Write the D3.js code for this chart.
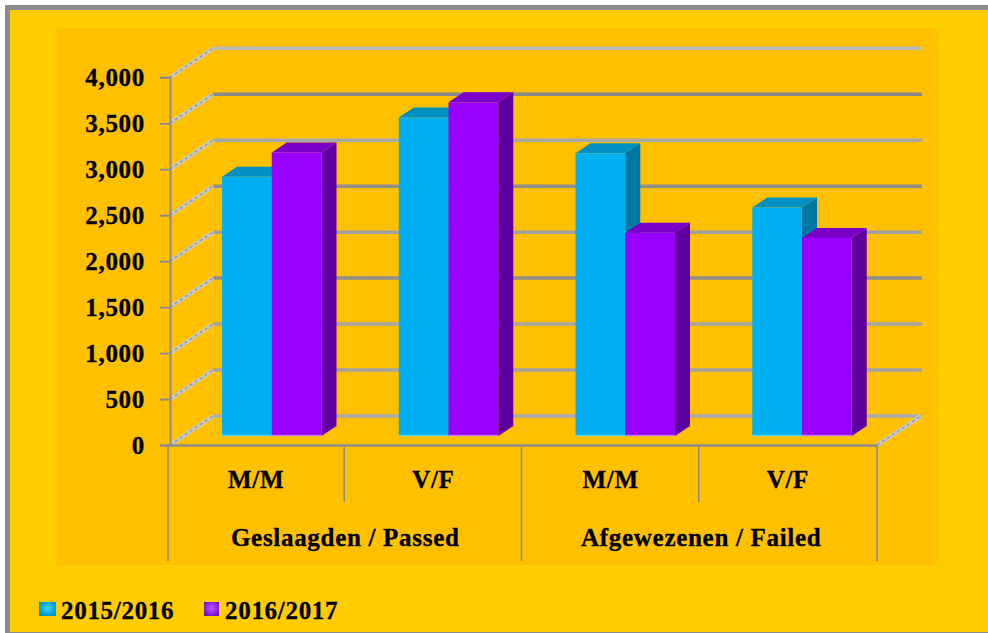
<!DOCTYPE html>
<html><head><meta charset="utf-8">
<script src="https://cdn.jsdelivr.net/npm/d3@7"></script>
<style>html,body{margin:0;padding:0;background:#fff}svg{display:block}
text{font-family:"Liberation Serif",serif;font-weight:bold;fill:#000;stroke:#000;stroke-width:0.3px}</style></head>
<body><div id="c"></div>
<script>
const categories = ["M/M","V/F","M/M","V/F"];
const groups = ["Geslaagden / Passed","Afgewezenen / Failed"];
const seriesNames = ["2015/2016","2016/2017"];
const s2015 = [2820,3465,3075,2485];
const s2016 = [3085,3630,2210,2155];
const yTicks = [0,500,1000,1500,2000,2500,3000,3500,4000];

const W=988,H=633;
const svg=d3.select("#c").append("svg").attr("width",W).attr("height",H);
const defs=svg.append("defs");
svg.append("rect").attr("width",W).attr("height",H).attr("fill","#8c8c8c");
svg.append("rect").attr("width",W).attr("height",5).attr("fill","#fff");
svg.append("rect").attr("width",5).attr("height",H).attr("fill","#fff");
svg.append("rect").attr("x",10).attr("y",10).attr("width",W-10).attr("height",622).attr("fill","#FFCC00");
svg.append("rect").attr("x",57).attr("y",28).attr("width",880).attr("height",537).attr("fill","#FFC000");

const y=d3.scaleLinear().domain([0,4000]).range([445,77.3]);
const x=d3.scaleBand().domain(d3.range(categories.length)).range([168,877]);
const xBars=d3.scaleBand().domain(d3.range(categories.length)).range([222,929]);
const sub=d3.scaleBand().domain([0,1]).range([0,99.5]);
const BACK={dx:43,dy:-29}, BAR={dx:15,dy:-10}, baseLift=9;
const colors=[{f:"#00B0F0",t:"#0090C2",s:"#0076A3",e:"#4FD6FF"},{f:"#9900FF",t:"#7A00C9",s:"#5E00A0",e:"#C77BFF"}];

// back wall gridlines + side wall
const gridColors=["#ababab","#a3a3a3","#a6a6a6","#8f8f8f","#a0a0a0","#8f8f8f","#a8a8a8","#8a8a8a","#b9b9b9"];
yTicks.forEach((v,i)=>{
  svg.append("line").attr("x1",170+BACK.dx).attr("x2",922)
    .attr("y1",y(v)+BACK.dy).attr("y2",y(v)+BACK.dy)
    .attr("stroke",gridColors[i]).attr("stroke-width",3.5);
  const side=()=>svg.append("line").attr("x1",170).attr("y1",y(v)).attr("x2",170+BACK.dx).attr("y2",y(v)+BACK.dy);
  side().attr("stroke","#c9c9c4").attr("stroke-width",4);
  side().attr("stroke","#8f8f8f").attr("stroke-width",1.2).attr("stroke-dasharray","3 3");
});
// floor right edge
[["#c9c9c4",4,null],["#8f8f8f",1.2,"3 3"]].forEach(([c,w,d])=>{
  svg.append("line").attr("x1",877).attr("y1",y(0)).attr("x2",921).attr("y2",y(0)+BACK.dy)
    .attr("stroke",c).attr("stroke-width",w).attr("stroke-dasharray",d);
});

// axes
const yAxis=d3.axisLeft(y).tickValues(yTicks).tickSize(10).tickPadding(15).tickFormat(d3.format(","));
const ga=svg.append("g").attr("transform","translate(170,0)").call(yAxis);
ga.selectAll("path,line").attr("stroke","#8c8c8c").attr("stroke-width",2);
ga.selectAll("text").attr("font-size",25).attr("letter-spacing",0.7).attr("fill","#000").attr("dy","0.34em")
  .style("font-family",'"Liberation Serif",serif').style("font-weight","bold");
const gx=d3.axisBottom(x).tickValues([]).tickSize(0).tickSizeOuter(0);
const gb=svg.append("g").attr("transform",`translate(0,${y(0)})`).call(gx);
gb.selectAll("path").attr("stroke","#8c8c8c").attr("stroke-width",2.5);

// bars
[s2015,s2016].forEach((vals,si)=>{
  vals.forEach((v,i)=>{
    const x0=xBars(i)+sub(si), w=sub.bandwidth();
    const yb=y(0)-baseLift, yt=yb-(y(0)-y(v));
    const c=colors[si], d=BAR;
    const g=svg.append("g");
    g.append("path").attr("fill",c.s)
      .attr("d",`M${x0+w},${yt}L${x0+w+d.dx},${yt+d.dy}L${x0+w+d.dx},${yb+d.dy}L${x0+w},${yb}Z`);
    g.append("path").attr("fill",c.t)
      .attr("d",`M${x0},${yt}L${x0+d.dx},${yt+d.dy}L${x0+w+d.dx},${yt+d.dy}L${x0+w},${yt}Z`);
    g.append("rect").attr("x",x0).attr("y",yt).attr("width",w).attr("height",yb-yt).attr("fill",c.f);
    g.append("line").attr("x1",x0).attr("x2",x0+w).attr("y1",yb-0.5).attr("y2",yb-0.5).attr("stroke",c.e).attr("stroke-width",1.5);
  });
});

// category dividers and labels
const axisCol="#8c8c8c";
const xEnd=x.range()[1];
const divider=(px,y2)=>svg.append("line").attr("x1",px).attr("x2",px).attr("y1",y(0)).attr("y2",y2).attr("stroke",axisCol).attr("stroke-width",1.6);
d3.range(categories.length+1).forEach(i=>{
  const px=i<categories.length?x(i):xEnd;
  divider(px-(i>0&&i<categories.length?1:0), i%2===0?561:502);
});
categories.forEach((c,i)=>{
  svg.append("text").attr("x",x(i)+x.step()/2-0.5).attr("y",488).attr("text-anchor","middle")
    .attr("font-size",25).attr("letter-spacing",0.7).text(c);
});
groups.forEach((g,i)=>{
  svg.append("text").attr("x",x(i*2)+x.step()+(i?1.5:0)).attr("y",546).attr("text-anchor","middle")
    .attr("font-size",25).attr("letter-spacing",0.7).text(g);
});

// legend
const lx=[39,204], tx=[61,225];
seriesNames.forEach((n,i)=>{
  const id="lg"+i;
  const gr=defs.append("radialGradient").attr("id",id).attr("cx","50%").attr("cy","45%").attr("r","60%");
  gr.append("stop").attr("offset","0%").attr("stop-color",i?"#C050FF":"#30D5FF");
  gr.append("stop").attr("offset","100%").attr("stop-color",i?"#7010C8":"#0090C8");
  svg.append("rect").attr("x",lx[i]).attr("y",602).attr("width",i?15:17).attr("height",14).attr("fill",`url(#${id})`);
  svg.append("text").attr("x",tx[i]).attr("y",619).attr("font-size",25).attr("letter-spacing",0.7).text(n);
});
</script></body></html>
